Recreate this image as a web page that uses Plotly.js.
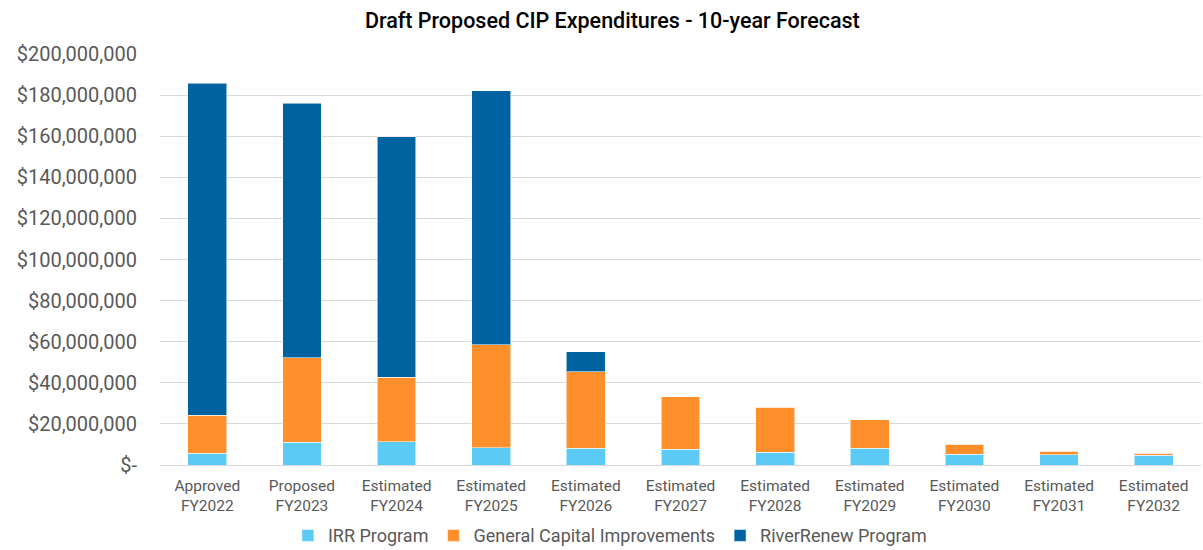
<!DOCTYPE html>
<html>
<head>
<meta charset="utf-8">
<script src="https://cdn.plot.ly/plotly-3.0.1.min.js"></script>
<style>html,body{margin:0;padding:0;background:#fff;}#chart{width:1203px;height:550px;}</style>
</head>
<body>
<div id="chart"></div>
<script>
const categories = ["Approved<br>FY2022","Proposed<br>FY2023","Estimated<br>FY2024","Estimated<br>FY2025","Estimated<br>FY2026","Estimated<br>FY2027","Estimated<br>FY2028","Estimated<br>FY2029","Estimated<br>FY2030","Estimated<br>FY2031","Estimated<br>FY2032"];
const irrProgram = [5.7e6, 11.0e6, 11.2e6, 8.4e6, 8.1e6, 7.6e6, 6.2e6, 8.1e6, 5.2e6, 5.0e6, 4.7e6];
const generalCapital = [18.6e6, 41.2e6, 31.5e6, 50.0e6, 37.3e6, 25.6e6, 21.9e6, 14.0e6, 4.9e6, 1.8e6, 1.0e6];
const riverRenew = [161.4e6, 123.8e6, 117.1e6, 123.6e6, 9.7e6, 0, 0, 0, 0, 0, 0];
const yTickVals = [0, 20e6, 40e6, 60e6, 80e6, 100e6, 120e6, 140e6, 160e6, 180e6, 200e6];
const yTickText = ["$-", "$20,000,000", "$40,000,000", "$60,000,000", "$80,000,000", "$100,000,000", "$120,000,000", "$140,000,000", "$160,000,000", "$180,000,000", "$200,000,000"];

const FONT = 'Roboto, "Liberation Sans", sans-serif';
const edge = {color: 'rgba(255,255,255,0.55)', width: 1};

const traces = [
  {type: 'bar', name: 'IRR Program', x: categories, y: irrProgram, marker: {color: '#5BCBF5', line: edge}},
  {type: 'bar', name: 'General Capital Improvements', x: categories, y: generalCapital, marker: {color: '#FF8F2B', line: edge}},
  {type: 'bar', name: 'RiverRenew Program', x: categories, y: riverRenew, marker: {color: '#0063A1', line: edge}}
];

const layout = {
  width: 1203, height: 550,
  barmode: 'stack',
  bargap: 0.59,
  paper_bgcolor: '#fff', plot_bgcolor: '#fff',
  margin: {l: 160, r: 2, t: 54, b: 85},
  font: {family: FONT, color: '#595959'},
  title: {text: 'Draft Proposed CIP Expenditures - 10-year Forecast', font: {family: FONT, size: 21.5, weight: 500, color: '#000'}, x: 0.509, xanchor: 'center', y: 0.963, yanchor: 'middle', xref: 'container', yref: 'container'},
  xaxis: {tickfont: {size: 15.5, color: '#595959'}, showline: true, linecolor: '#d9d9d9', ticks: '', ticklabelstandoff: 6, fixedrange: true},
  yaxis: {range: [0, 200e6], tickvals: yTickVals, ticktext: yTickText, tickfont: {size: 20, color: '#595959'}, gridcolor: '#d9d9d9', gridwidth: 1, zeroline: false, ticks: '', ticklabelstandoff: 22},
  legend: {orientation: 'h', x: 0.507, xanchor: 'center', xref: 'container', y: 0.026, yref: 'container', yanchor: 'middle', font: {size: 18, color: '#595959'}, traceorder: 'normal', tracegroupgap: 0},
  showlegend: true
};

Plotly.newPlot('chart', traces, layout, {displayModeBar: false, staticPlot: true});
</script>
</body>
</html>
